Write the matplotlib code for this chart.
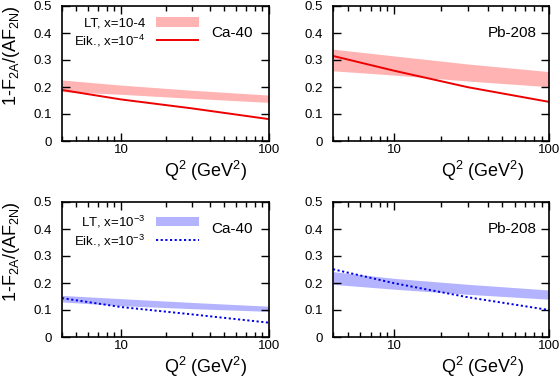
import matplotlib
matplotlib.use("Agg")
import matplotlib.pyplot as plt
from matplotlib.ticker import FixedLocator, NullFormatter

plt.rcParams["font.family"] = ["Liberation Sans", "DejaVu Sans"]
plt.rcParams["mathtext.fontset"] = "custom"
plt.rcParams["mathtext.rm"] = "Liberation Sans"
plt.rcParams["mathtext.it"] = "Liberation Sans"

# Q^2 sample points (GeV^2)
q2 = [4, 10, 30, 100]

# x = 1e-4
ca_lt_lo_4 = [0.183, 0.173, 0.158, 0.143]
ca_lt_hi_4 = [0.226, 0.207, 0.188, 0.170]
ca_eik_4 = [0.189, 0.154, 0.121, 0.081]
pb_lt_lo_4 = [0.260, 0.244, 0.222, 0.201]
pb_lt_hi_4 = [0.340, 0.315, 0.285, 0.257]
pb_eik_4 = [0.315, 0.260, 0.199, 0.145]

# x = 1e-3
ca_lt_lo_3 = [0.130, 0.116, 0.105, 0.095]
ca_lt_hi_3 = [0.154, 0.142, 0.128, 0.114]
ca_eik_3 = [0.144, 0.111, 0.084, 0.053]
pb_lt_lo_3 = [0.195, 0.177, 0.158, 0.140]
pb_lt_hi_3 = [0.242, 0.217, 0.195, 0.174]
pb_eik_3 = [0.251, 0.199, 0.147, 0.100]

yticks = [0, 0.1, 0.2, 0.3, 0.4, 0.5]
ytick_labels = ["0", "0.1", "0.2", "0.3", "0.4", "0.5"]
xticks = [10, 100]
xtick_labels = ["10", "100"]
xminor = [4, 5, 6, 7, 8, 9, 20, 30, 40, 50, 60, 70, 80, 90]

pink = "#ffb3b3"
red = "#ee0000"
lblue = "#b3b3ff"
blue = "#0000e6"

fig = plt.figure(figsize=(5.6, 3.91), dpi=100)
W, H = 560, 391


def make_ax(x0, x1, y0, y1):
    return fig.add_axes([x0 / W, (H - y1) / H, (x1 - x0) / W, (y1 - y0) / H])


axes = [
    make_ax(62, 269, 6, 141),
    make_ax(333, 549, 6, 141),
    make_ax(62, 269, 202, 337),
    make_ax(333, 549, 202, 337),
]

panels = [
    (ca_lt_lo_4, ca_lt_hi_4, ca_eik_4, pink, red, "-", "Ca-40", 0.923,
     "LT, x=10-4", "Eik., x=10$^{-4}$"),
    (pb_lt_lo_4, pb_lt_hi_4, pb_eik_4, pink, red, "-", "Pb-208", 0.944, None, None),
    (ca_lt_lo_3, ca_lt_hi_3, ca_eik_3, lblue, blue, (0, (1.1, 1.3)), "Ca-40", 0.923,
     "LT, x=10$^{-3}$", "Eik., x=10$^{-3}$"),
    (pb_lt_lo_3, pb_lt_hi_3, pb_eik_3, lblue, blue, (0, (1.1, 1.3)), "Pb-208", 0.944, None, None),
]

for i, (ax, p) in enumerate(zip(axes, panels)):
    lo, hi, eik, bc, lc, ls, name, tx, lab1, lab2 = p
    ax.fill_between(q2, lo, hi, color=bc, lw=0, label=lab1)
    ax.plot(q2, eik, color=lc, lw=1.4, ls=ls, label=lab2, solid_capstyle="butt")
    ax.set_xscale("log")
    ax.set_xlim(4, 100)
    ax.set_ylim(0, 0.5)
    ax.xaxis.set_major_locator(FixedLocator(xticks))
    ax.set_xticklabels(xtick_labels)
    ax.xaxis.set_minor_locator(FixedLocator(xminor))
    ax.xaxis.set_minor_formatter(NullFormatter())
    ax.set_yticks(yticks)
    ax.set_yticklabels(ytick_labels)
    ax.tick_params(which="both", direction="in", top=True, right=True,
                   labelsize=9.5, width=1.0)
    ax.tick_params(which="major", length=6)
    ax.tick_params(which="minor", length=3.5)
    ax.tick_params(axis="x", pad=2)
    ax.tick_params(axis="y", pad=7)
    for s in ax.spines.values():
        s.set_linewidth(1.2)
    ax.text(tx, 0.4, name, transform=ax.get_yaxis_transform(),
            ha="right", va="center", fontsize=11)
    ax.set_xlabel("Q$^2$ (GeV$^2$)", fontsize=13, va="top")
    ax.xaxis.set_label_coords(0.695, -0.133)
    if i % 2 == 0:
        ax.set_ylabel("1-F$_{2A}$/(AF$_{2N}$)", fontsize=13)
        ax.yaxis.set_label_coords(-0.195, 0.63)
        ax.legend(loc="upper left", bbox_to_anchor=(0.06, 0.915), frameon=False,
                  markerfirst=False, fontsize=9.5, handlelength=3.3,
                  handletextpad=0.8, labelspacing=0.2, borderpad=0,
                  borderaxespad=0)

fig.savefig("out.png", dpi=100)
